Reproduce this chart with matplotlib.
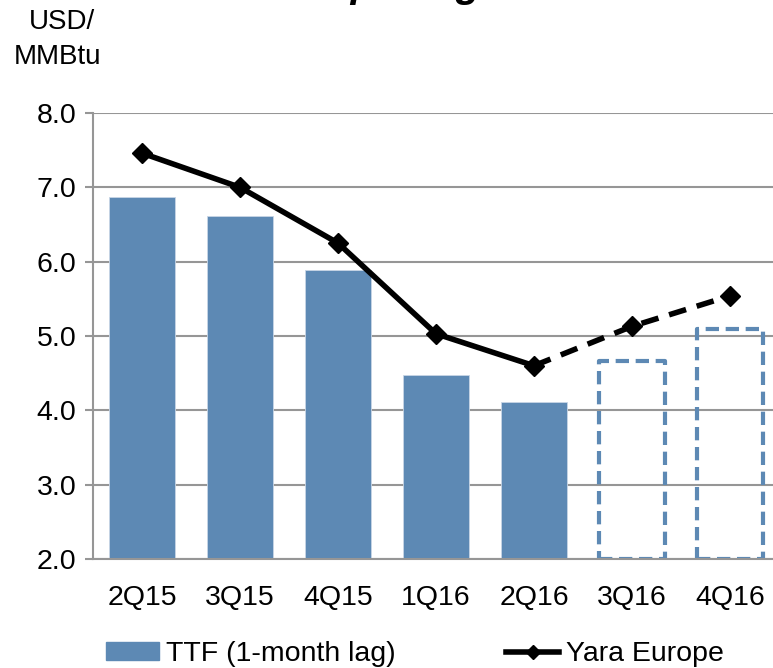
import matplotlib
matplotlib.use("Agg")
import matplotlib.pyplot as plt
from matplotlib.lines import Line2D
from matplotlib.patches import Patch

plt.rcParams['font.family'] = ['Liberation Sans', 'DejaVu Sans']

quarters = ['2Q15', '3Q15', '4Q15', '1Q16', '2Q16', '3Q16', '4Q16']
ttf_actual = [6.87, 6.62, 5.89, 4.48, 4.11]
ttf_forecast = [4.66, 5.09]
yara_europe = [7.46, 7.00, 6.25, 5.03, 4.60, 5.13, 5.54]
yticks = [2.0, 3.0, 4.0, 5.0, 6.0, 7.0, 8.0]

blue = '#5D89B4'
grid_gray = '#969696'

fig = plt.figure(figsize=(7.73, 6.68), dpi=100)
ax = fig.add_axes([93 / 773, 1 - 559 / 668, 686 / 773, 446 / 668])

x = list(range(len(quarters)))
n_act = len(ttf_actual)
base = yticks[0]

ax.bar(x[:n_act], [v - base for v in ttf_actual], bottom=base, width=0.67,
       color=blue, edgecolor='#C8D6E6', linewidth=0.6, zorder=2)
ax.bar(x[n_act:], [v - base for v in ttf_forecast], bottom=base, width=0.67,
       fill=False, edgecolor=blue, linewidth=3, linestyle=(0, (3.2, 1.6)),
       joinstyle='round', zorder=2)

ax.plot(x[:n_act], yara_europe[:n_act], color='black', lw=4,
        marker='D', markersize=10, zorder=4)
ax.plot(x[n_act - 1:], yara_europe[n_act - 1:], color='black', lw=4,
        linestyle=(0, (3.2, 2.0)), marker='D', markersize=10, markevery=[1, 2],
        zorder=4)

ax.set_xlim(-0.5, len(quarters) - 0.5)
ax.set_ylim(yticks[0], yticks[-1])
ax.set_yticks(yticks)
ax.set_yticklabels([f'{t:.1f}' for t in yticks])
ax.set_xticks(x)
ax.set_xticklabels(quarters)
ax.tick_params(axis='y', length=6, width=1.5, color=grid_gray, labelsize=20.5, pad=6)
ax.tick_params(axis='x', length=0, labelsize=20.5, pad=19)
ax.yaxis.grid(True, color=grid_gray, linewidth=1.5, zorder=0)
ax.set_axisbelow(True)
for side in ['top', 'right']:
    ax.spines[side].set_visible(False)
for side in ['left', 'bottom']:
    ax.spines[side].set_color(grid_gray)
    ax.spines[side].set_linewidth(1.5)

fig.text(62 / 773, 1 - 22 / 668, 'USD/', ha='center', va='center', fontsize=20)
fig.text(58 / 773, 1 - 57 / 668, 'MMBtu', ha='center', va='center', fontsize=20)

# title mostly cut off at the top edge, as in the source
fig.text(439 / 773, 1 + 3 / 668, 'European gas cost', ha='center', va='baseline',
         fontsize=29, fontweight='bold', fontstyle='italic')

handles = [Patch(facecolor=blue, edgecolor=blue),
           Line2D([], [], color='black', lw=4, marker='D', markersize=7)]
fig.legend(handles, ['TTF (1-month lag)', 'Yara Europe'], loc='center left',
           bbox_to_anchor=(106 / 773, 1 - 654 / 668), ncol=2, frameon=False,
           fontsize=20.5, borderpad=0, borderaxespad=0, handlelength=1.85,
           handleheight=0.55, handletextpad=0.25, columnspacing=3.9)

fig.savefig('out.png', dpi=100)
